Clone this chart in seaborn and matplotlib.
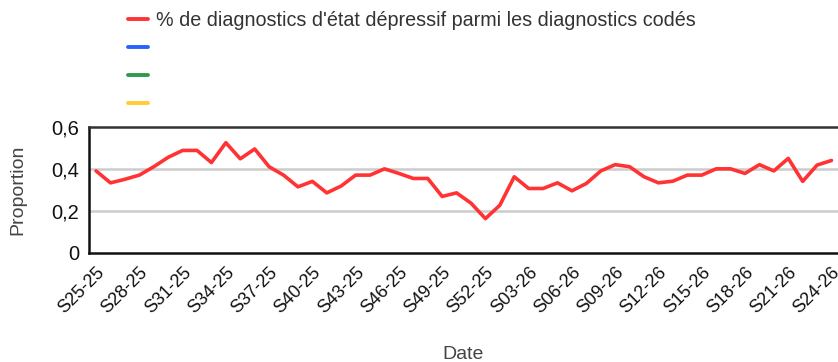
import matplotlib
matplotlib.use("Agg")
import matplotlib.pyplot as plt
from matplotlib.lines import Line2D
import seaborn as sns
import pandas as pd

# Weekly share of depressive-state diagnoses among coded diagnoses
weeks = [f"S{w:02d}-25" for w in range(25, 53)] + [f"S{w:02d}-26" for w in range(1, 25)]
proportion = [
    0.39, 0.333, 0.35, 0.37, 0.41, 0.455, 0.488, 0.488, 0.43, 0.525,
    0.448, 0.495, 0.41, 0.37, 0.314, 0.34, 0.285, 0.318, 0.37, 0.37,
    0.40, 0.378, 0.354, 0.354, 0.268, 0.285, 0.236, 0.162, 0.226, 0.362,
    0.306, 0.306, 0.333, 0.295, 0.33, 0.39, 0.42, 0.41, 0.362, 0.333,
    0.341, 0.37, 0.37, 0.40, 0.40, 0.378, 0.42, 0.39, 0.45, 0.34,
    0.418, 0.44,
]
series_label = "% de diagnostics d'état dépressif parmi les diagnostics codés"
y_ticks = [0, 0.2, 0.4, 0.6]
y_tick_labels = ["0", "0,2", "0,4", "0,6"]

df = pd.DataFrame({"pos": range(len(weeks)), "semaine": weeks, "proportion": proportion})

sns.set_theme(style="white")
plt.rcParams["font.family"] = ["Liberation Sans", "DejaVu Sans"]

fig = plt.figure(figsize=(8.38, 3.62), dpi=100)
ax = fig.add_axes([89 / 838, 1 - 252.5 / 362, (838 - 89) / 838, (252.5 - 127) / 362])

red = "#ff3333"
sns.lineplot(data=df, x="pos", y="proportion", ax=ax, color=red, linewidth=2.6)

ax.set_xlim(-0.49, 51.45)
ax.set_ylim(0, 0.6)
ax.set_yticks(y_ticks)
ax.set_yticklabels(y_tick_labels, fontsize=14.5, color="#111111")
ax.set_xticks(list(range(0, len(weeks), 3)))
ax.set_xticklabels(weeks[::3], rotation=45, ha="right", rotation_mode="anchor",
                   fontsize=13, color="#111111")

for v in (0.2, 0.4):
    ax.axhline(v, color="#cccccc", linewidth=1.8, zorder=0)

ax.tick_params(axis="x", direction="inout", length=8, width=1.5, color="#111111", pad=4)
ax.tick_params(axis="y", length=0, pad=7)

for side in ("left", "bottom"):
    ax.spines[side].set_color("#111111")
    ax.spines[side].set_linewidth(1.8)
ax.spines["top"].set_color("#333333")
ax.spines["top"].set_linewidth(1.8)
ax.spines["right"].set_visible(False)

ax.set_xlabel("Date", fontsize=14, color="#444444", labelpad=21)
ax.set_ylabel("Proportion", fontsize=14, color="#444444", labelpad=18)

handles = [
    Line2D([], [], color=red, linewidth=2.8),
    Line2D([], [], color="#2962ff", linewidth=2.8),
    Line2D([], [], color="#2e9a4b", linewidth=2.8),
    Line2D([], [], color="#ffcc33", linewidth=2.8),
]
labels = [series_label, "", "", ""]
fig.legend(handles, labels, loc="upper left", bbox_to_anchor=(128 / 838, 1 - 11 / 362),
           frameon=False, fontsize=14.2, handlelength=1.0, handletextpad=0.4,
           borderpad=0, borderaxespad=0, labelspacing=0.45, labelcolor="#333333")

fig.savefig("out.png", dpi=100)
